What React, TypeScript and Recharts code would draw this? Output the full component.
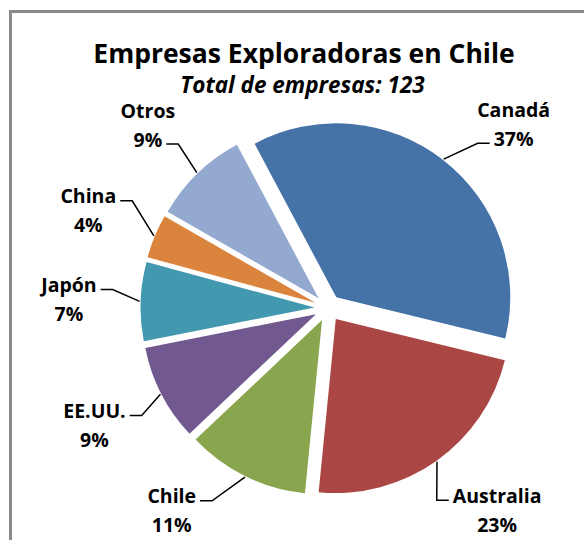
import React from 'react';
import { PieChart, Pie, Cell, Sector } from 'recharts';

const categories = ['Canadá', 'Australia', 'Chile', 'EE.UU.', 'Japón', 'China', 'Otros'];
const companies = [45, 28, 14, 11, 9, 5, 11];
const colors = ['#4572A7', '#AA4643', '#89A54E', '#71588F', '#4198AF', '#DB843D', '#93A9CF'];

const data = categories.map((name, i) => ({ name, value: companies[i] }));

const RAD = Math.PI / 180;
const CX = 328;
const CY = 308;
const R = 174;
const EXPLODE = 13.5;
const LABEL_GAP = 44; // distance from the exploded rim to the label box
const LABEL_TOP = 123; // allowed range for the label box centre
const LABEL_BOTTOM = 511;
const LINE_GAP = 29;
const BOX_H = 48;
const FONT = '"Open Sans", Lato, sans-serif';
const LABEL_SIZE = 19.5;

let ctx: CanvasRenderingContext2D | null = null;
function textWidth(s: string) {
  if (!ctx) ctx = document.createElement('canvas').getContext('2d');
  if (!ctx) return s.length * 11;
  ctx.font = `bold ${LABEL_SIZE}px "Open Sans"`;
  return ctx.measureText(s).width;
}

function ExplodedSector(props: any) {
  const { cx, cy, midAngle } = props;
  const dx = EXPLODE * Math.cos(-midAngle * RAD);
  const dy = EXPLODE * Math.sin(-midAngle * RAD);
  return <Sector {...props} cx={cx + dx} cy={cy + dy} stroke="none" />;
}

function renderLabel(props: any) {
  const { cx, cy, midAngle, outerRadius, name, percent } = props;
  const pct = `${Math.round(percent * 100)}%`;
  const w = Math.max(textWidth(name), textWidth(pct));
  const rim = outerRadius + EXPLODE;

  const boxAt = (a: number) => {
    const ux = Math.cos(-a * RAD);
    const uy = Math.sin(-a * RAD);
    return {
      x: cx + (rim + LABEL_GAP) * ux + (ux * w) / 2,
      y: cy + (rim + LABEL_GAP) * uy + (uy * BOX_H) / 2,
    };
  };

  const ux0 = Math.cos(-midAngle * RAD);
  let a = midAngle;
  let box = boxAt(a);
  for (let k = 0; k < 120; k++) {
    if (box.y < LABEL_TOP) a += ux0 > 0 ? -0.5 : 0.5;
    else if (box.y > LABEL_BOTTOM) a += ux0 > 0 ? 0.5 : -0.5;
    else break;
    box = boxAt(a);
  }

  const ux = Math.cos(-midAngle * RAD);
  const uy = Math.sin(-midAngle * RAD);
  const sx = cx + (rim + 1) * ux;
  const sy = cy + (rim + 1) * uy;
  const lx = box.x;
  const line1 = box.y - LINE_GAP / 2;
  const line2 = box.y + LINE_GAP / 2;
  const top = uy < -0.5;
  const attachY = (top ? line2 : line1) + 5;
  const wa = textWidth(top ? pct : name);
  const right = ux > 0;
  const ex = right ? lx - wa / 2 - 4 : lx + wa / 2 + 4;
  const bx = right ? ex - 12 : ex + 12;
  const textStyle = { fontFamily: FONT, fontWeight: 700, fontSize: LABEL_SIZE };
  return (
    <g>
      <polyline
        points={`${sx},${sy} ${bx},${attachY} ${ex},${attachY}`}
        fill="none"
        stroke="#000"
        strokeWidth={1.5}
      />
      <text x={lx} y={line1} textAnchor="middle" dominantBaseline="central" fill="#000" style={textStyle}>
        {name}
      </text>
      <text x={lx} y={line2} textAnchor="middle" dominantBaseline="central" fill="#000" style={textStyle}>
        {pct}
      </text>
    </g>
  );
}

export default function App() {
  return (
    <div
      style={{
        position: 'fixed',
        left: 0,
        top: 0,
        width: 584,
        height: 540,
        overflow: 'hidden',
        background: '#fff',
        fontFamily: FONT,
      }}
    >
      <div
        style={{
          position: 'absolute',
          left: 9,
          top: 10,
          width: 700,
          height: 700,
          borderTop: '3px solid #8a8a8a',
          borderLeft: '3px solid #8a8a8a',
        }}
      />
      <div
        style={{
          position: 'absolute',
          left: 0,
          width: 608,
          top: 35,
          textAlign: 'center',
          fontWeight: 700,
          fontSize: 26.5,
          lineHeight: '36px',
          color: '#000',
        }}
      >
        Empresas Exploradoras en Chile
      </div>
      <div
        style={{
          position: 'absolute',
          left: 0,
          width: 605,
          top: 69,
          textAlign: 'center',
          fontWeight: 700,
          fontStyle: 'italic',
          fontSize: 22.5,
          lineHeight: '31px',
          color: '#000',
        }}
      >
        Total de empresas: 123
      </div>
      <div style={{ position: 'absolute', left: 0, top: 0 }}>
        <PieChart width={584} height={540} margin={{ top: 0, right: 0, bottom: 0, left: 0 }}>
          <Pie
            data={data}
            dataKey="value"
            nameKey="name"
            cx={CX}
            cy={CY}
            outerRadius={R}
            startAngle={118}
            endAngle={-242}
            stroke="none"
            shape={ExplodedSector}
            label={renderLabel}
            labelLine={false}
            isAnimationActive={false}
          >
            {data.map((d, i) => (
              <Cell key={d.name} fill={colors[i]} />
            ))}
          </Pie>
        </PieChart>
      </div>
    </div>
  );
}
